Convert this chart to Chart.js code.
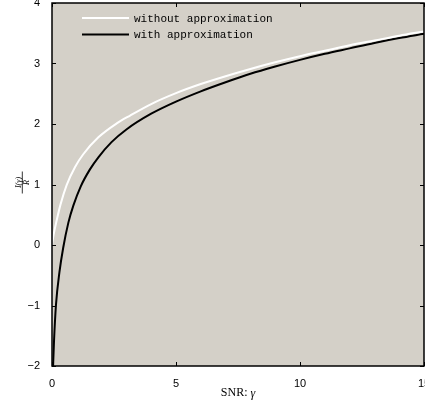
<!DOCTYPE html>
<html>
<head>
<meta charset="utf-8">
<script src="https://cdn.jsdelivr.net/npm/chart.js@4.4.1/dist/chart.umd.min.js"></script>
<style>
  html, body { margin: 0; padding: 0; background: #fff; }
  #wrap { width: 425px; height: 404px; }
</style>
</head>
<body>
<div id="wrap"><canvas id="snrChart" width="425" height="404"></canvas></div>
<script>
// values
const snrWithout = [0, 0.06, 0.19, 0.35, 0.59, 0.93, 1.26, 1.87, 2.61, 3.15, 4, 5, 6, 7, 8, 9, 10, 11, 12, 13, 14, 15];
const valWithout = [0, 0.16, 0.41, 0.68, 0.99, 1.29, 1.50, 1.78, 2.01, 2.14, 2.33, 2.51, 2.66, 2.79, 2.91, 3.02, 3.12, 3.21, 3.30, 3.38, 3.46, 3.53];

const snrWith = [0.035, 0.08, 0.16, 0.3, 0.45, 0.66, 0.86, 1.16, 1.53, 1.87, 2.4, 3, 4, 5, 6, 7, 8, 9, 10, 11, 12, 13, 14, 15];
const valWith = [-2.1, -1.6, -0.99, -0.45, -0.05, 0.37, 0.65, 0.97, 1.25, 1.45, 1.70, 1.91, 2.17, 2.37, 2.54, 2.69, 2.83, 2.95, 3.06, 3.16, 3.25, 3.34, 3.42, 3.49];

const seriesNames = ['without approximation', 'with approximation'];
const seriesColors = ['#ffffff', '#000000'];

const xTicks = [0, 5, 10, 15];
const yTicks = [-2, -1, 0, 1, 2, 3, 4];

function toPoints(xs, ys) {
  return xs.map((x, i) => ({ x: x, y: ys[i] }));
}

// grey plot background
const plotBackground = {
  id: 'plotBackground',
  beforeDraw(chart) {
    const { ctx, chartArea: a } = chart;
    ctx.save();
    ctx.fillStyle = '#d4d0c8';
    ctx.fillRect(a.left, a.top, a.right - a.left, a.bottom - a.top);
    ctx.restore();
  }
};

// box + inward ticks, matlab style
const axisBox = {
  id: 'axisBox',
  afterDatasetsDraw(chart) {
    const { ctx, chartArea: a, scales } = chart;
    ctx.save();
    ctx.strokeStyle = '#000';
    ctx.lineWidth = 1;
    ctx.beginPath();
    xTicks.forEach(v => {
      const px = Math.round(scales.x.getPixelForValue(v)) + 0.5;
      ctx.moveTo(px, a.bottom); ctx.lineTo(px, a.bottom - 4);
      ctx.moveTo(px, a.top); ctx.lineTo(px, a.top + 4);
    });
    yTicks.forEach(v => {
      const py = Math.round(scales.y.getPixelForValue(v)) + 0.5;
      ctx.moveTo(a.left, py); ctx.lineTo(a.left + 4, py);
      ctx.moveTo(a.right, py); ctx.lineTo(a.right - 4, py);
    });
    ctx.stroke();
    ctx.lineWidth = 1.5;
    ctx.strokeRect(a.left, a.top, a.right - a.left, a.bottom - a.top);
    ctx.restore();
  }
};

// legend inside the plot, no frame
const insideLegend = {
  id: 'insideLegend',
  afterDraw(chart) {
    const { ctx, chartArea: a } = chart;
    ctx.save();
    ctx.font = '11px "Liberation Mono", "DejaVu Sans Mono", monospace';
    ctx.textBaseline = 'middle';
    chart.data.datasets.forEach((ds, i) => {
      const y = a.top + 15 + i * 16.5;
      ctx.strokeStyle = ds.borderColor;
      ctx.lineWidth = 2;
      ctx.beginPath();
      ctx.moveTo(a.left + 30, y);
      ctx.lineTo(a.left + 77, y);
      ctx.stroke();
      ctx.fillStyle = '#000';
      ctx.fillText(ds.label, a.left + 82, y + 1);
    });
    ctx.restore();
  }
};

// axis titles: rotated fraction I(γ)/R and "SNR: γ"
const axisTitles = {
  id: 'axisTitles',
  afterDraw(chart) {
    const { ctx, chartArea: a } = chart;
    const cy = (a.top + a.bottom) / 2 - 2;
    ctx.save();
    ctx.translate(22, cy);
    ctx.rotate(-Math.PI / 2);
    ctx.fillStyle = '#000';
    ctx.strokeStyle = '#000';
    ctx.textAlign = 'center';
    ctx.textBaseline = 'alphabetic';
    ctx.font = 'italic 8px "Liberation Serif", serif';
    ctx.fillText('I(γ)', 0, -1.5);
    ctx.fillText('R', 0, 6.5);
    ctx.lineWidth = 0.8;
    ctx.beginPath();
    ctx.moveTo(-11, 0.3);
    ctx.lineTo(11, 0.3);
    ctx.stroke();
    ctx.restore();

    ctx.save();
    ctx.fillStyle = '#000';
    ctx.textBaseline = 'middle';
    ctx.font = '12px "Liberation Serif", serif';
    const part1 = 'SNR: ';
    const w1 = ctx.measureText(part1).width;
    ctx.font = 'italic 12px "Liberation Serif", serif';
    const w2 = ctx.measureText('γ').width;
    let x = (a.left + a.right) / 2 - (w1 + w2) / 2;
    ctx.font = '12px "Liberation Serif", serif';
    ctx.fillText(part1, x, 393);
    ctx.font = 'italic 12px "Liberation Serif", serif';
    ctx.fillText('γ', x + w1, 394);
    ctx.restore();
  }
};

const ctx = document.getElementById('snrChart').getContext('2d');
new Chart(ctx, {
  type: 'line',
  data: {
    datasets: [
      {
        label: seriesNames[0],
        data: toPoints(snrWithout, valWithout),
        borderColor: seriesColors[0],
        borderWidth: 2,
        pointRadius: 0,
        cubicInterpolationMode: 'monotone'
      },
      {
        label: seriesNames[1],
        data: toPoints(snrWith, valWith),
        borderColor: seriesColors[1],
        borderWidth: 2,
        pointRadius: 0,
        cubicInterpolationMode: 'monotone'
      }
    ]
  },
  options: {
    responsive: false,
    animation: false,
    layout: { padding: { top: 3, right: 1, left: 0, bottom: 0 } },
    plugins: {
      legend: { display: false },
      tooltip: { enabled: false }
    },
    scales: {
      x: {
        type: 'linear',
        min: 0,
        max: 15,
        afterBuildTicks(scale) { scale.ticks = xTicks.map(v => ({ value: v })); },
        afterFit(scale) {
          scale.height = 38;
          scale.paddingLeft = 0; scale.paddingRight = 0;
        },
        grid: { display: false },
        border: { display: false },
        ticks: {
          padding: 3,
          maxRotation: 0,
          color: '#000',
          font: { family: '"Liberation Sans", Arial, sans-serif', size: 11 }
        }
      },
      y: {
        type: 'linear',
        min: -2,
        max: 4,
        afterBuildTicks(scale) { scale.ticks = yTicks.map(v => ({ value: v })); },
        afterFit(scale) {
          scale.width = 52;
          scale.paddingTop = 0; scale.paddingBottom = 0;
        },
        grid: { display: false },
        border: { display: false },
        ticks: {
          padding: 4,
          color: '#000',
          font: { family: '"Liberation Sans", Arial, sans-serif', size: 11 },
          callback: v => v < 0 ? '\u2212' + Math.abs(v) : String(v)
        }
      }
    }
  },
  plugins: [plotBackground, axisBox, insideLegend, axisTitles]
});
</script>
</body>
</html>
